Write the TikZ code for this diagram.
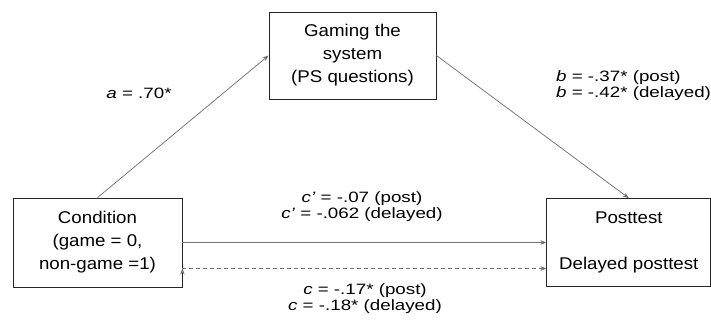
\documentclass[tikz,border=0pt]{standalone}
\usepackage{fontspec}
\setmainfont{Liberation Sans}
\newfontfamily\boxfont[FakeStretch=1.1]{Liberation Sans}
\newfontfamily\lblfont[FakeStretch=1.25]{Liberation Sans}
\usetikzlibrary{arrows.meta,positioning}

\begin{document}
\begin{tikzpicture}[x=1pt,y=-1pt,node distance=364pt,
    var/.style={draw=black!85,line width=0.8pt,align=center,
        font=\boxfont\fontsize{17}{23}\selectfont},
    coef/.style={inner sep=0pt,align=center,
        font=\lblfont\fontsize{15}{15.5}\selectfont},
    >={Stealth[length=6pt,width=4.5pt]}]
\useasboundingbox (0,0) rectangle (711,323);

\node[var,minimum width=169pt,minimum height=89pt] (cond) at (97.5,242.5)
    {Condition\\(game = 0,\\non-game =1)};
\node[var,minimum width=164pt,minimum height=88pt] (post) [right = of cond]
    {Posttest\\[23pt]Delayed posttest};
\node[var,minimum width=167pt,minimum height=87pt] (gaming) at (352.5,55.5)
    {Gaming the\\system\\(PS questions)};

\path[->,draw=black!55,line width=0.75pt]
    (cond.north) edge (gaming.west)
    (gaming.east) edge (post.north)
    (cond.east) edge (post.west)
    ([yshift=-26pt]cond.east) edge [dash pattern=on 4pt off 3pt] ([yshift=-26pt]post.west);

\node[coef] (a_lbl) at (139,93) {\textit{a} = .70*};
\node[coef,anchor=west,align=left] (b_lbl) at (556,85.5)
    {\textit{b} = -.37* (post)\\\textit{b} = -.42* (delayed)};
\node[coef] (cp_lbl) at (362,206.5)
    {\textit{c’} = -.07 (post)\\\textit{c’} = -.062 (delayed)};
\node[coef] (c_lbl) at (365,298.5)
    {\textit{c} = -.17* (post)\\\textit{c} = -.18* (delayed)};
\end{tikzpicture}
\end{document}
